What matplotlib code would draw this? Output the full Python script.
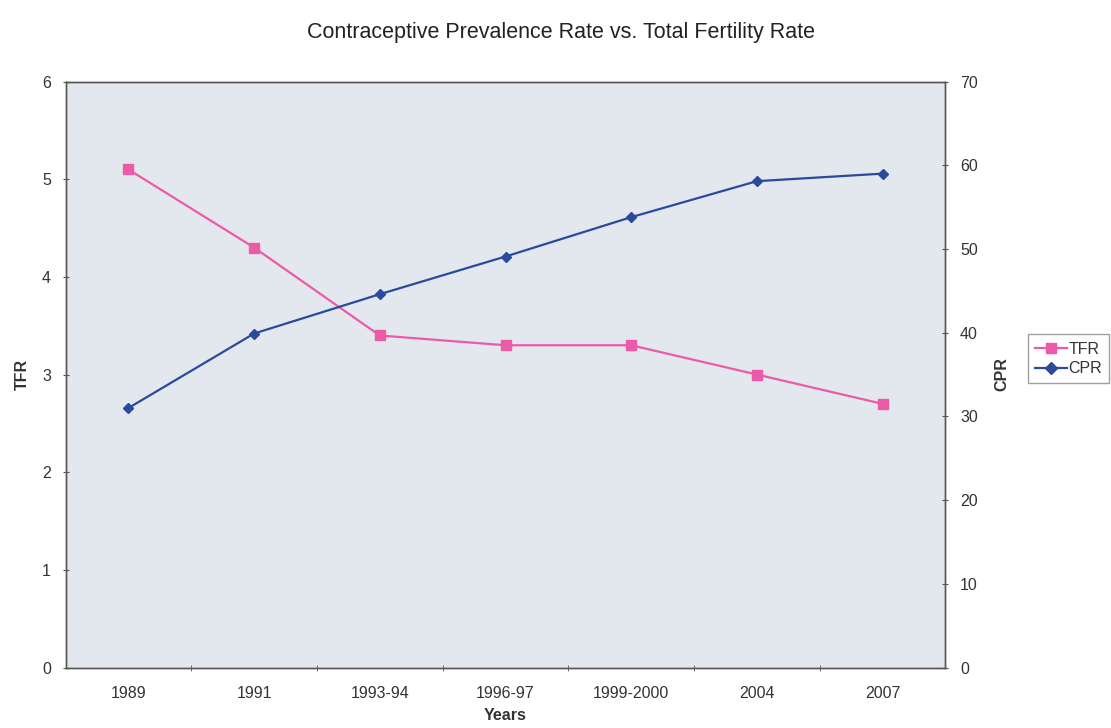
import matplotlib
matplotlib.use("Agg")
import matplotlib.pyplot as plt
from matplotlib.lines import Line2D

plt.rcParams["font.family"] = ["Liberation Sans", "DejaVu Sans"]

# survey rounds and the two indicators
years = ["1989", "1991", "1993-94", "1996-97", "1999-2000", "2004", "2007"]
tfr = [5.1, 4.3, 3.4, 3.3, 3.3, 3.0, 2.7]
cpr = [31.0, 39.9, 44.6, 49.1, 53.8, 58.1, 59.0]

PINK, NAVY, BG, FRAME = "#ec5aa8", "#2b4a9c", "#e3e8ee", "#555555"
TXT = "#333333"

fig = plt.figure(figsize=(11.11, 7.28), dpi=100)
ax = fig.add_axes([0.059, 0.083, 0.792, 0.805])
ax2 = ax.twinx()

ax.set_facecolor(BG)
ax.set_zorder(1)
ax2.set_zorder(2)
ax2.patch.set_visible(False)

x = list(range(len(years)))
ax.plot(x, tfr, color=PINK, lw=1.6, marker="s", ms=6.5, mec=PINK, mfc=PINK)
ax2.plot(x, cpr, color=NAVY, lw=1.6, marker="D", ms=5.5, mec=NAVY, mfc=NAVY)

ax.set_xlim(-0.5, len(years) - 0.5)
ax.set_ylim(0, 6)
ax2.set_ylim(0, 70)
ax.set_yticks(range(0, 7))
ax2.set_yticks(range(0, 71, 10))

# category labels centred, tick marks on the boundaries
ax.set_xticks(x)
ax.set_xticklabels(years)
ax.set_xticks([i + 0.5 for i in x[:-1]], minor=True)
ax.tick_params(axis="x", which="major", length=0, pad=13, labelsize=11.5, labelcolor=TXT)
ax.tick_params(axis="x", which="minor", length=4, direction="inout", color=FRAME)
ax.tick_params(axis="y", length=5, direction="inout", labelsize=11.5, labelcolor=TXT, color=FRAME, pad=8)
ax2.tick_params(axis="y", length=5, direction="inout", labelsize=11.5, labelcolor=TXT, color=FRAME, pad=8)

for a in (ax, ax2):
    for s in a.spines.values():
        s.set_color(FRAME)
        s.set_linewidth(1.0)

ax.set_xlabel("Years", fontsize=11.5, fontweight="bold", color=TXT, labelpad=5)
ax.set_ylabel("TFR", fontsize=11.5, fontweight="bold", color=TXT, labelpad=9)
ax2.set_ylabel("CPR", fontsize=11.5, fontweight="bold", color=TXT, labelpad=12)

fig.suptitle("Contraceptive Prevalence Rate vs. Total Fertility Rate",
             x=0.505, y=0.97, fontsize=15.5, color="#222222")

handles = [Line2D([], [], color=PINK, lw=1.6, marker="s", ms=7),
           Line2D([], [], color=NAVY, lw=1.6, marker="D", ms=6)]
fig.legend(handles, ["TFR", "CPR"], loc="center left", bbox_to_anchor=(0.925, 0.507),
           frameon=True, fancybox=False, edgecolor="#888888", fontsize=11.5,
           handlelength=2.0, handletextpad=0.1, borderpad=0.45, labelspacing=0.3,
           borderaxespad=0, labelcolor=TXT)

fig.savefig("out.png", dpi=100, facecolor="white")
